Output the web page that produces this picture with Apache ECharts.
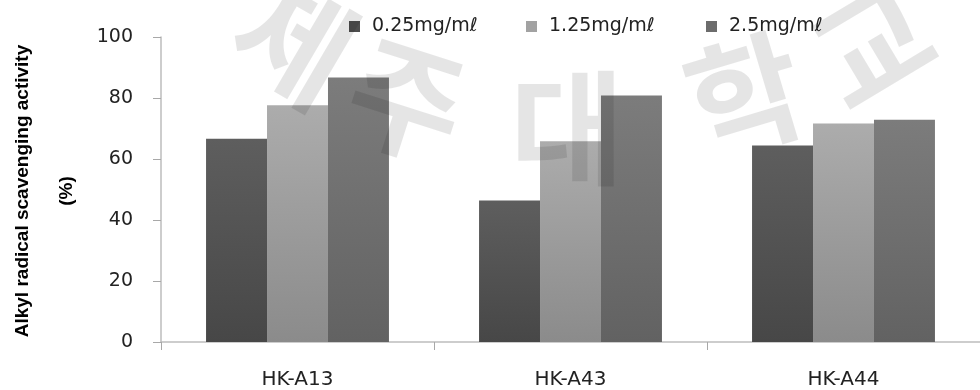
<!DOCTYPE html>
<html>
<head>
<meta charset="utf-8">
<script src="https://cdn.jsdelivr.net/npm/echarts@6/dist/echarts.min.js"></script>
<style>html,body{margin:0;padding:0;background:#fff}#c{width:980px;height:390px}</style>
</head>
<body>
<div id="c"></div>
<script>
const categories = ['HK-A13', 'HK-A43', 'HK-A44'];
const seriesNames = ['0.25mg/mℓ', '1.25mg/mℓ', '2.5mg/mℓ'];
const s025 = [66.6, 46.4, 64.4];
const s125 = [77.6, 65.8, 71.6];
const s250 = [86.7, 80.8, 72.9];
const yTicks = [0, 20, 40, 60, 80, 100];
const yTitle = 'Alkyl radical scavenging activity\n(%)';
const watermark = ['제', '주', '대', '학', '교'];

const chart = echarts.init(document.getElementById('c'), null, {renderer: 'canvas'});
const grad = (a, b) => new echarts.graphic.LinearGradient(0, 0, 0, 1, [{offset: 0, color: a}, {offset: 1, color: b}]);
const fills = [grad('#5e5e5e', '#474747'), grad('#acacac', '#8b8b8b'), grad('#7c7c7c', '#626262')];
const iconColors = ['#4e4e4e', '#a2a2a2', '#6c6c6c'];
const legendLeft = [344, 521, 701];
const wmPos = [[294, 42, -0.53], [407, 100, -0.31], [567, 128, 0.0], [745, 95, 0.29], [872, 45, 0.54]];

const option = {
  backgroundColor: '#ffffff',
  animation: false,
  grid: {left: 161, right: -12, top: 37, bottom: 47, containLabel: false},
  legend: seriesNames.map((n, i) => ({
    left: legendLeft[i], top: 12, itemWidth: 11, itemHeight: 11, itemGap: 0,
    icon: 'rect', selectedMode: false,
    data: [{name: n, itemStyle: {color: iconColors[i]}}],
    textStyle: {fontFamily: 'DejaVu Sans', fontSize: 19, color: '#222', padding: [0, 0, 0, 7]}
  })),
  xAxis: {
    type: 'category', data: categories,
    axisLine: {lineStyle: {color: '#bdbdbd', width: 1.5}},
    axisTick: {show: true, length: 8, lineStyle: {color: '#a8a8a8'}},
    axisLabel: {fontFamily: 'DejaVu Sans', fontSize: 20, color: '#222', margin: 28}
  },
  yAxis: {
    type: 'value', min: yTicks[0], max: yTicks[yTicks.length - 1], interval: 20,
    axisLine: {show: true, lineStyle: {color: '#bdbdbd', width: 1.5}},
    axisTick: {show: true, length: 8, lineStyle: {color: '#a8a8a8'}},
    splitLine: {show: false},
    axisLabel: {fontFamily: 'DejaVu Sans', fontSize: 19, color: '#222', margin: 28}
  },
  series: [s025, s125, s250].map((d, i) => ({
    type: 'bar', name: seriesNames[i], data: d,
    barGap: '0%', barCategoryGap: '33%',
    itemStyle: {color: fills[i]}
  })),
  graphic: [
    {
      type: 'text', x: 45, y: 191, rotation: Math.PI / 2, z: 10,
      style: {text: yTitle, textAlign: 'center', textVerticalAlign: 'middle', lineHeight: 44,
        font: 'bold 19px "Liberation Sans", Arial, sans-serif', fill: '#000'}
    }
  ].concat(watermark.map((ch, i) => ({
    type: 'text', x: wmPos[i][0], y: wmPos[i][1], rotation: wmPos[i][2], z: 100, silent: true,
    style: {text: ch, textAlign: 'center', textVerticalAlign: 'middle',
      font: 'bold 124px "Noto Sans CJK KR"', fill: 'rgba(0,0,0,0.10)',
      shadowBlur: 12, shadowColor: 'rgba(0,0,0,0.12)'}
  })))
};
chart.setOption(option);
</script>
</body>
</html>
